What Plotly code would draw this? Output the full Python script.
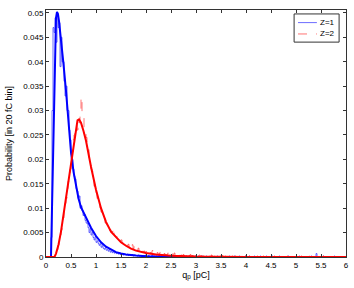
import numpy as np
import plotly.graph_objects as go

bin_width = 0.02  # 20 fC bins, in pC

# Measured histogram, Z=1 (per 0.02 pC bin, starting at 0)
z1_hist = [
    0, 0, 0, 0, 0, 0.004, 0.030, 0.047, 0.046, 0.049,
    0.044, 0.050, 0.047, 0.048, 0.039, 0.045, 0.040, 0.040, 0.036, 0.033,
    0.035, 0.030, 0.030, 0.026, 0.024, 0.021, 0.020, 0.018, 0.0165, 0.016,
    0.014, 0.0135, 0.012, 0.0125, 0.010, 0.0105, 0.0095, 0.0085, 0.0088, 0.0075,
    0.0070, 0.0068, 0.0060, 0.0050, 0.0058, 0.0045, 0.0050, 0.0040, 0.0035, 0.0042,
    0.0030, 0.0033, 0.0028, 0.0024, 0.0027, 0.0020, 0.0023, 0.0018, 0.0016, 0.0019,
    0.0014, 0.0015, 0.0012, 0.0016, 0.0010, 0.0012, 0.0009, 0.0011, 0.0008, 0.0010,
    0.0007, 0.0009, 0.0006, 0.0008, 0.0005, 0.0007, 0.0006, 0.0004, 0.0006, 0.0005,
    0.0004, 0.0006, 0.0003, 0.0005, 0.0004, 0.0003, 0.0005, 0.0002, 0.0004, 0.0003,
    0.0003, 0.0002, 0.0004, 0.0002, 0.0003, 0.0001, 0.0003, 0.0002, 0.0002, 0.0004,
    0.0002, 0.0001, 0.0003, 0.0002, 0.0001, 0.0002, 0.0004, 0.0001, 0.0002, 0.0001,
    0.0002, 0.0001, 0.0002, 0.0003, 0.0001, 0.0002, 0.0001, 0.0002, 0.0001, 0.0003,
    0.0001, 0.0002, 0.0001, 0.0001, 0.0002, 0.0001, 0.0003, 0.0001, 0.0001, 0.0002,
    0.0001, 0.0002, 0.0001, 0.0003, 0.0001, 0.0001, 0.0002, 0.0001, 0.0002, 0.0001,
    0.0002, 0.0001, 0.0001, 0.0002, 0, 0.0001, 0.0002, 0.0001, 0.0001, 0.0002,
    0.0001, 0.0001, 0.0002, 0.0001, 0, 0.0001, 0.0002, 0.0001, 0, 0.0001,
    0.0002, 0.0001, 0.0001, 0, 0.0001, 0.0002, 0.0001, 0, 0.0001, 0.0001,
    0.0001, 0.0002, 0, 0.0001, 0.0001, 0.0002, 0.0001, 0.0001, 0, 0.0001,
    0.0001, 0, 0.0001, 0.0002, 0.0001, 0, 0.0001, 0.0001, 0.0002, 0,
    0.0001, 0.0001, 0, 0.0002, 0.0001, 0.0001, 0, 0.0001, 0.0001, 0.0002,
    0, 0.0001, 0.0001, 0.0002, 0, 0.0001, 0.0001, 0, 0.0002, 0.0001,
    0.0001, 0, 0.0001, 0.0001, 0.0002, 0, 0.0001, 0.0001, 0, 0.0001,
    0.0002, 0.0001, 0, 0.0001, 0.0001, 0, 0.0002, 0.0001, 0, 0.0001,
    0.0001, 0, 0.0001, 0.0002, 0, 0.0001, 0.0001, 0, 0.0001, 0.0001,
    0, 0.0001, 0.0002, 0.0001, 0, 0.0001, 0, 0.0001, 0.0001, 0,
    0.0001, 0.0001, 0, 0.0002, 0.0001, 0, 0.0001, 0.0001, 0, 0.0001,
    0.0001, 0, 0.0001, 0.0001, 0, 0.0002, 0.0001, 0, 0.0001, 0.0001,
    0.0007, 0.0001, 0, 0.0001, 0.0001, 0, 0.0001, 0.0002, 0, 0.0001,
    0.0001, 0, 0.0001, 0.0001, 0, 0.0001, 0.0001, 0, 0.0002, 0.0001,
    0, 0.0001, 0.0001, 0, 0.0001, 0.0001, 0, 0.0001, 0, 0.0001,
]

# Measured histogram, Z=2
z2_hist = [
    0, 0, 0, 0, 0, 0, 0, 0, 0, 0.0005,
    0.001, 0.0015, 0.0025, 0.003, 0.0045, 0.0055, 0.0065, 0.008, 0.0095, 0.011,
    0.012, 0.014, 0.0155, 0.017, 0.018, 0.020, 0.0215, 0.024, 0.025, 0.027,
    0.027, 0.026, 0.028, 0.0275, 0.030, 0.0328, 0.029, 0.0285, 0.026, 0.0255,
    0.0245, 0.0235, 0.022, 0.020, 0.0195, 0.018, 0.0175, 0.016, 0.0145, 0.0150,
    0.0132, 0.012, 0.0118, 0.0105, 0.010, 0.0092, 0.0085, 0.0080, 0.0078, 0.0070,
    0.0068, 0.0060, 0.0062, 0.0055, 0.0056, 0.0050, 0.0052, 0.0060, 0.0045, 0.0042,
    0.0040, 0.0043, 0.0036, 0.0038, 0.0032, 0.0035, 0.0030, 0.0028, 0.0031, 0.0026,
    0.0025, 0.0022, 0.0026, 0.0020, 0.0023, 0.0018, 0.0025, 0.0017, 0.0024, 0.0015,
    0.0016, 0.0013, 0.0018, 0.0012, 0.0014, 0.0011, 0.0015, 0.0010, 0.0012, 0.0009,
    0.0011, 0.0008, 0.0014, 0.0007, 0.0009, 0.0008, 0.0013, 0.0006, 0.0008, 0.0007,
    0.0006, 0.0009, 0.0005, 0.0007, 0.0011, 0.0005, 0.0006, 0.0004, 0.0007, 0.0005,
    0.0004, 0.0006, 0.0009, 0.0004, 0.0005, 0.0003, 0.0006, 0.0004, 0.0008, 0.0003,
    0.0004, 0.0003, 0.0005, 0.0007, 0.0003, 0.0004, 0.0002, 0.0005, 0.0003, 0.0006,
    0.0003, 0.0002, 0.0004, 0.0003, 0.0005, 0.0002, 0.0003, 0.0002, 0.0004, 0.0002,
    0.0003, 0.0002, 0.0001, 0.0004, 0.0002, 0.0003, 0.0001, 0.0002, 0.0003, 0.0001,
    0.0002, 0.0003, 0.0001, 0.0002, 0.0001, 0.0004, 0.0002, 0.0001, 0.0002, 0.0001,
    0.0003, 0.0001, 0.0002, 0.0001, 0.0002, 0.0001, 0.0003, 0.0001, 0.0001, 0.0002,
    0.0001, 0.0002, 0.0001, 0.0003, 0.0001, 0.0001, 0.0002, 0.0001, 0.0001, 0.0002,
    0.0001, 0.0001, 0.0002, 0.0001, 0.0001, 0.0003, 0.0001, 0, 0.0001, 0.0002,
    0.0001, 0.0001, 0.0001, 0.0002, 0.0001, 0, 0.0001, 0.0001, 0.0002, 0.0001,
    0.0001, 0.0002, 0.0001, 0, 0.0001, 0.0001, 0.0001, 0.0002, 0.0001, 0,
    0.0001, 0.0001, 0.0002, 0.0001, 0, 0.0001, 0.0001, 0.0001, 0.0002, 0.0001,
    0, 0.0001, 0.0001, 0.0002, 0.0001, 0, 0.0001, 0.0001, 0.0001, 0,
    0.0001, 0.0002, 0.0001, 0, 0.0001, 0.0001, 0, 0.0001, 0.0002, 0.0001,
    0, 0.0001, 0.0001, 0.0001, 0, 0.0002, 0.0001, 0, 0.0001, 0.0001,
    0.0001, 0, 0.0001, 0.0002, 0.0001, 0, 0.0001, 0.0001, 0, 0.0001,
    0.0001, 0.0002, 0, 0.0001, 0.0001, 0, 0.0001, 0.0002, 0.0001, 0,
    0.0001, 0.0001, 0, 0.0001, 0.0002, 0.0001, 0, 0.0001, 0.0001, 0,
    0.0001, 0, 0.0001, 0.0001, 0, 0.0001, 0.0002, 0, 0.0001, 0.0001,
]

# Fitted curves
z1_fit_x = [0, 0.10, 0.12, 0.14, 0.15, 0.16, 0.17, 0.18, 0.20, 0.22, 0.24, 0.26, 0.30,
            0.35, 0.40, 0.45, 0.50, 0.55, 0.60, 0.65, 0.70, 0.80, 0.90, 1.0, 1.1, 1.2,
            1.3, 1.4, 1.5, 1.6, 1.8, 2.0, 2.5, 3.0, 4.0, 6.0]
z1_fit_y = [0, 0, 0.010, 0.021, 0.027, 0.034, 0.040, 0.045, 0.049, 0.0502, 0.0497, 0.0483,
            0.0448, 0.0395, 0.034, 0.028, 0.0215, 0.0175, 0.0145, 0.012, 0.0102, 0.0080,
            0.0060, 0.0043, 0.0030, 0.0021, 0.0015, 0.0010, 0.0007, 0.0005, 0.0003,
            0.00015, 0.00003, 0.00001, 0, 0]

z2_fit_x = [0, 0.17, 0.2, 0.25, 0.3, 0.35, 0.4, 0.45, 0.5, 0.55, 0.6, 0.63, 0.66, 0.7,
            0.75, 0.8, 0.9, 1.0, 1.1, 1.2, 1.3, 1.4, 1.5, 1.6, 1.7, 1.8, 2.0, 2.2, 2.5,
            3.0, 3.5, 4.0, 6.0]
z2_fit_y = [0, 0, 0.0007, 0.0025, 0.0052, 0.0086, 0.0123, 0.016, 0.0195, 0.0232, 0.0265,
            0.0280, 0.0282, 0.0275, 0.0258, 0.0238, 0.0185, 0.0138, 0.0100, 0.0072,
            0.0052, 0.0040, 0.0030, 0.0023, 0.0017, 0.0013, 0.0008, 0.0005, 0.00025,
            0.00008, 0.00002, 0, 0]

x_ticks = [0, 0.5, 1, 1.5, 2, 2.5, 3, 3.5, 4, 4.5, 5, 5.5, 6]
x_tick_labels = ["0", "0.5", "1", "1.5", "2", "2.5", "3", "3.5", "4", "4.5", "5", "5.5", "6"]
y_ticks = [0, 0.005, 0.01, 0.015, 0.02, 0.025, 0.03, 0.035, 0.04, 0.045, 0.05]
y_tick_labels = ["0", "0.005", "0.01", "0.015", "0.02", "0.025", "0.03", "0.035", "0.04", "0.045", "0.05"]

legend_labels = ["Z=1", "Z=2"]

z1_hist_color = "rgba(60,60,255,0.75)"
z2_hist_color = "rgba(255,70,70,0.75)"

bins = np.arange(len(z1_hist)) * bin_width

fig = go.Figure()
fig.add_trace(go.Scatter(x=bins, y=z1_hist, mode="lines", name=legend_labels[0], showlegend=False,
                         line=dict(color=z1_hist_color, width=1, shape="hv")))
fig.add_trace(go.Scatter(x=bins, y=z2_hist, mode="lines", name=legend_labels[1], showlegend=False,
                         line=dict(color=z2_hist_color, width=1, dash="dash", shape="hv")))
fig.add_trace(go.Scatter(x=z1_fit_x, y=z1_fit_y, mode="lines", showlegend=False,
                         line=dict(color="#0000ff", width=2)))
fig.add_trace(go.Scatter(x=z2_fit_x, y=z2_fit_y, mode="lines", showlegend=False,
                         line=dict(color="#ff0000", width=2)))

font_family = "Liberation Sans, Arial"
axis_common = dict(showline=True, linecolor="#333333", linewidth=1, mirror="allticks",
                   ticks="inside", ticklen=3, tickcolor="#333333", showgrid=False,
                   zeroline=False, automargin=False,
                   tickfont=dict(family=font_family, size=8, color="black"))

fig.update_xaxes(range=[0, 6], tickvals=x_ticks, ticktext=x_tick_labels,
                 title=dict(text="q<sub>p</sub> [pC]", standoff=2,
                            font=dict(family=font_family, size=9, color="black")),
                 **axis_common)
fig.update_yaxes(range=[0, 0.0506], tickvals=y_ticks, ticktext=y_tick_labels,
                 title=dict(text="Probability [in 20 fC bin]", standoff=9,
                            font=dict(family=font_family, size=9, color="black")),
                 **axis_common)

# Manual compact legend box (MATLAB style)
lx0, lx1, ly0, ly1 = 0.827, 0.977, 0.870, 0.984
item_y = [0.949, 0.903]
fig.add_shape(type="rect", xref="paper", yref="paper", x0=lx0, x1=lx1, y0=ly0, y1=ly1,
              line=dict(color="#333333", width=1), fillcolor="white", layer="above")
for lab, yy, col, dash in zip(legend_labels, item_y, [z1_hist_color, z2_hist_color], ["solid", "dash"]):
    fig.add_shape(type="line", xref="paper", yref="paper", x0=0.84, x1=0.903, y0=yy, y1=yy,
                  line=dict(color=col, width=1, dash=dash), layer="above")
    fig.add_annotation(xref="paper", yref="paper", x=0.907, y=yy, text=lab, showarrow=False,
                       xanchor="left", yanchor="middle",
                       font=dict(family=font_family, size=8, color="black"))

fig.update_layout(
    width=354, height=288,
    margin=dict(l=46, r=8, t=10, b=31),
    paper_bgcolor="white", plot_bgcolor="white",
    showlegend=False,
)

fig.write_html("out.html", config={"displayModeBar": False},
               post_script="document.body.style.margin='0';document.body.style.padding='0';")
